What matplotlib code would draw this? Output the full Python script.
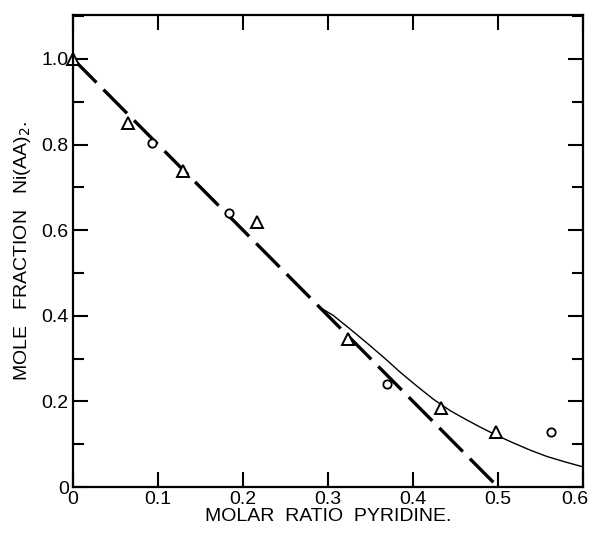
import numpy as np
import matplotlib
matplotlib.use('Agg')
import matplotlib.pyplot as plt
import matplotlib.transforms as mtransforms
from matplotlib.ticker import MultipleLocator, FuncFormatter

plt.rcParams['font.family'] = ['Liberation Sans', 'DejaVu Sans']

# triangles (one run of data)
tri_x = [0.0, 0.065, 0.130, 0.217, 0.324, 0.433, 0.498]
tri_y = [1.0, 0.851, 0.739, 0.620, 0.345, 0.184, 0.128]
# circles (other run)
circ_x = [0.093, 0.184, 0.369, 0.562]
circ_y = [0.804, 0.639, 0.240, 0.128]
# straight dashed line, 1 - 2x
line_x = [0.0, 0.5]
line_y = [1.0, 0.0]
# thin solid curve
curve_x = [0.290, 0.306, 0.326, 0.346, 0.366, 0.385, 0.405, 0.424, 0.444, 0.462, 0.479, 0.498, 0.518, 0.538, 0.558, 0.580, 0.600]
curve_y = [0.420, 0.401, 0.369, 0.336, 0.302, 0.268, 0.235, 0.205, 0.178, 0.158, 0.140, 0.121, 0.103, 0.086, 0.071, 0.058, 0.047]

fig = plt.figure(figsize=(5.91, 5.36), dpi=100)
ax = fig.add_axes([0.1235, 0.0914, 0.863, 0.881])

ax.plot(line_x, line_y, color='black', lw=2.4, dashes=(10, 3), solid_capstyle='butt')
ax.plot(curve_x, curve_y, color='black', lw=1.0)
ax.plot(tri_x, tri_y, linestyle='none', marker='^', ms=9, mfc='white', mec='black', mew=1.4, clip_on=False)
ax.plot(circ_x, circ_y, linestyle='none', marker='o', ms=6, mfc='white', mec='black', mew=1.3)

ax.set_xlim(0, 0.6)
ax.set_ylim(0, 1.103)
ax.xaxis.set_major_locator(MultipleLocator(0.1))
ax.yaxis.set_major_locator(MultipleLocator(0.2))
ax.yaxis.set_minor_locator(MultipleLocator(0.1))

fmt = FuncFormatter(lambda v, p: '0' if abs(v) < 1e-9 else '{:.1f}'.format(v))
ax.xaxis.set_major_formatter(fmt)
ax.yaxis.set_major_formatter(fmt)

ax.tick_params(which='both', direction='in', top=True, right=True, width=1.5, labelsize=14)
ax.tick_params(which='major', length=11, pad=3)
ax.tick_params(which='minor', length=8)
for s in ax.spines.values():
    s.set_linewidth(1.6)

ax.set_xlabel('MOLAR  RATIO  PYRIDINE.', fontsize=14, labelpad=0)
ax.set_ylabel('MOLE   FRACTION   Ni(AA)$_2$.', fontsize=14, labelpad=6)

# last x label sits at the image edge, nudge it in a few pixels
fig.canvas.draw()
last = ax.xaxis.get_major_ticks()[-1]
for t in ax.xaxis.get_major_ticks():
    if abs(t.get_loc() - 0.6) < 1e-6:
        last = t
shift = mtransforms.ScaledTranslation(-8 / 100, 0, fig.dpi_scale_trans)
last.label1.set_transform(last.label1.get_transform() + shift)

fig.savefig('out.png', dpi=100)
